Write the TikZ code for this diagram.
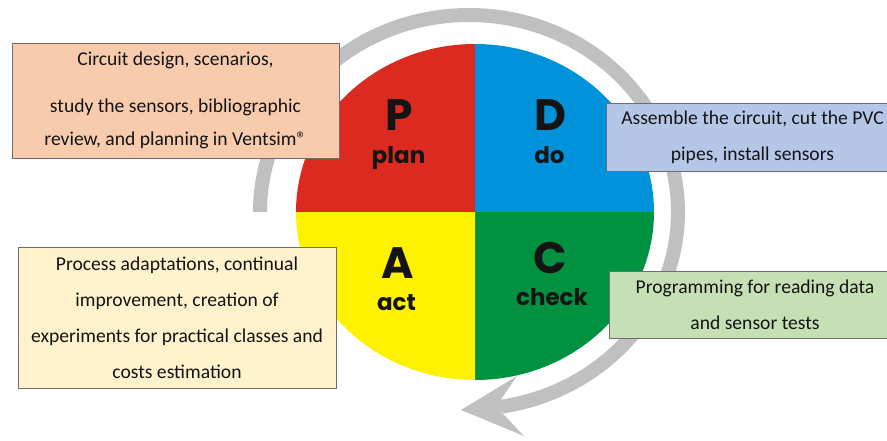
\documentclass[tikz,border=0pt]{standalone}
\usepackage{fontspec}
\setmainfont{Carlito}
\newfontfamily\pdcafont{Poppins}
\definecolor{R1}{RGB}{221,42,33}
\definecolor{B1}{RGB}{0,146,218}
\definecolor{G1}{RGB}{0,146,64}
\definecolor{Y1}{RGB}{255,242,0}
\definecolor{K1}{RGB}{192,192,192}
\definecolor{R2}{RGB}{248,203,173}
\definecolor{B2}{RGB}{180,199,231}
\definecolor{G2}{RGB}{197,224,180}
\definecolor{Y2}{RGB}{255,242,204}
\definecolor{E1}{RGB}{110,110,110}
\definecolor{T1}{RGB}{20,20,20}
\tikzset{
  txtbox/.style={draw=E1, line width=0.9pt, inner sep=0pt, align=center, text=T1,
                 font=\fontsize{19.6}{36}\selectfont},
  bigletter/.style={anchor=base, text=T1, font=\pdcafont\bfseries\fontsize{44}{44}\selectfont},
  smallword/.style={anchor=base, text=T1, font=\pdcafont\bfseries\fontsize{23}{23}\selectfont},
}

\begin{document}
\begin{tikzpicture}[x=1pt, y=-1pt]
      \useasboundingbox (0,0) rectangle (887,440);
      \clip (0,0) rectangle (887,440);
      \coordinate (ctr) at (475,212);
      \coordinate (ringctr) at (469,212);
      \draw[K1, line width=14pt] (ringctr) ++(-209,0) arc[start angle=180, end angle=441, x radius=209, y radius=197];
      \fill[K1] (461,410) -- (517,376) -- (500.7,399.7) -- (502.7,413.5) -- (524,436) -- cycle;
      \foreach \col/\a in {R1/180, B1/270, G1/0, Y1/90}
        \fill[\col] (ctr) -- ++(\a:179 and 168) arc[start angle=\a, delta angle=90, x radius=179, y radius=168] -- cycle;
      \node[bigletter] (P) at (399.5,130) {P};
      \node[smallword] (plan) at (398.5,163) {plan};
      \node[bigletter] (D) at (550,130) {D};
      \node[smallword] (do) at (549.5,163) {do};
      \node[bigletter] (A) at (397.5,278) {A};
      \node[smallword] (act) at (396.5,310) {act};
      \node[bigletter] (C) at (550,273) {C};
      \node[smallword] (check) at (552,305) {check};
      \node[txtbox, fill=R2, minimum width=327, minimum height=115] (planbox) at (175.5,100.5)
        {Circuit design, scenarios,\\[11pt] study the sensors, bibliographic\\[-3pt] review, and planning in Ventsim®};
      \node[txtbox, fill=B2, minimum width=293, minimum height=68] (dobox) at (752.5,137)
        {Assemble the circuit, cut the PVC\\ pipes, install sensors};
      \node[txtbox, fill=G2, minimum width=292, minimum height=67] (checkbox) at (755,304.5)
        {Programming for reading data\\ and sensor tests};
      \node[txtbox, fill=Y2, minimum width=318, minimum height=141] (actbox) at (177,317.5)
        {Process adaptations, continual\\ improvement, creation of\\ experiments for practical classes and\\ costs estimation};
\end{tikzpicture}
\end{document}
